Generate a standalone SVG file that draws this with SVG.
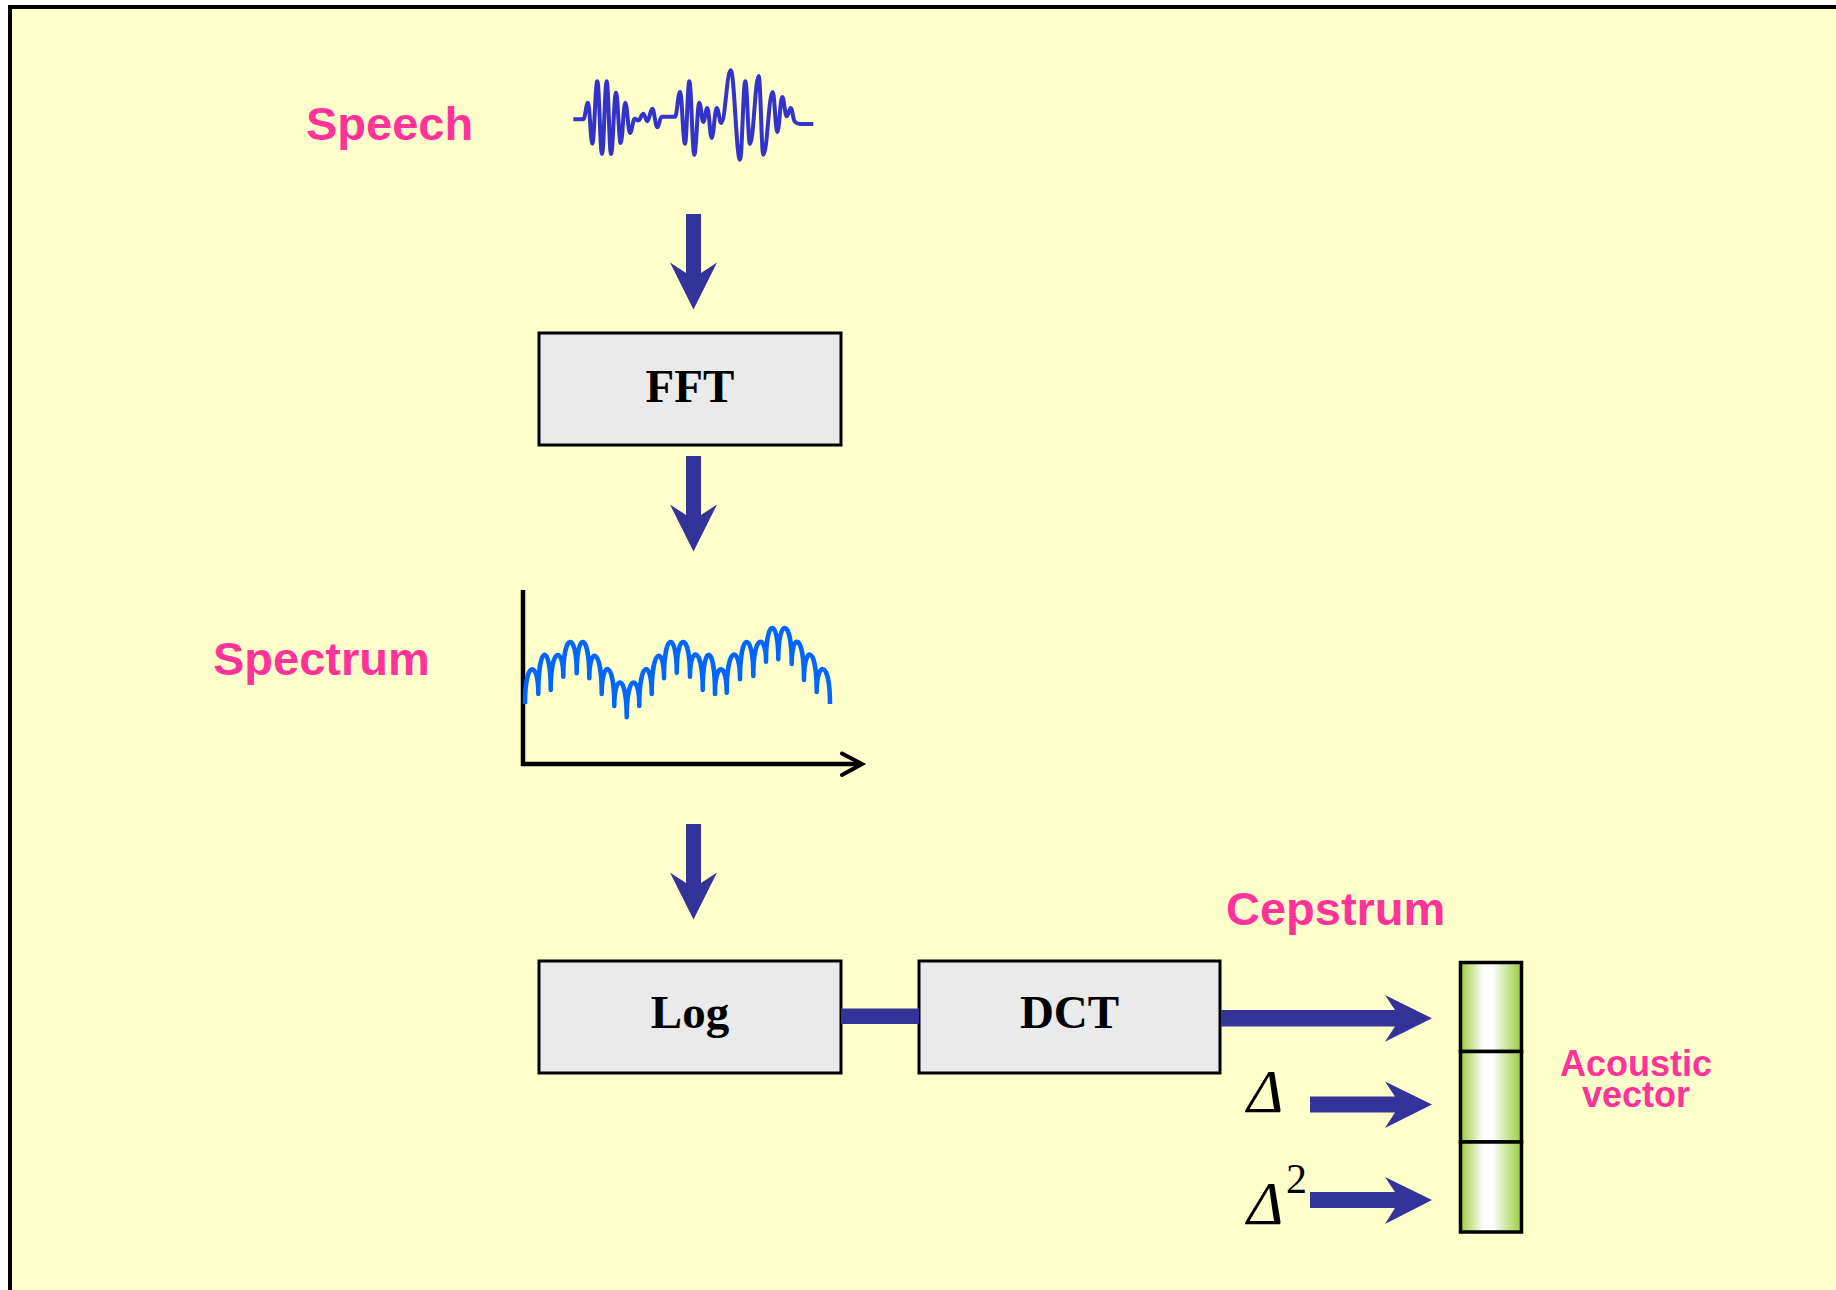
<svg xmlns="http://www.w3.org/2000/svg" width="1836" height="1290" viewBox="0 0 1836 1290">
<style>
.lbl{font-family:"Liberation Sans",Arial,sans-serif;font-weight:bold;fill:#FF3399}
.box{fill:#EAEAEA;stroke:#000;stroke-width:3}
.btxt{font-family:"Liberation Serif","Times New Roman",serif;font-weight:bold;font-size:47px;fill:#000;text-anchor:middle}
.arr{fill:#333399;stroke:none}
.cell{fill:url(#vg);stroke:#000;stroke-width:3.5}
.sym{font-family:"Liberation Serif","Times New Roman",serif;fill:#000}
</style>
<defs>
<linearGradient id="vg" x1="0" y1="0" x2="1" y2="0">
<stop offset="0" stop-color="#9BCB3A"/>
<stop offset="0.38" stop-color="#FFFFFF"/>
<stop offset="0.52" stop-color="#FFFFFF"/>
<stop offset="1" stop-color="#9BCB3A"/>
</linearGradient>
</defs>
<rect x="0" y="0" width="1836" height="1290" fill="#FFFFFF"/>
<rect id="frame" x="10" y="7" width="1900" height="1400" fill="#FFFFCC" stroke="#000" stroke-width="4"/>

<g id="speech">
<text class="lbl" x="306" y="140" font-size="47">Speech</text>
<path fill="none" stroke="#3333CC" stroke-width="4" stroke-linejoin="round" d="M573.3,119.3 L583.3,119.3 C585.2,119.3 586.1,102.7 588,102.7 C589.7,102.7 590.6,143.7 592.3,143.7 C594.3,143.7 595.3,81.3 597.3,81.3 C599.2,81.3 600.1,154 602,154 C603.9,154 604.8,81.3 606.7,81.3 C608.4,81.3 609.3,154 611,154 C613,154 614,92.7 616,92.7 C617.9,92.7 618.8,143 620.7,143 C622.5,143 623.5,102.7 625.3,102.7 C627.2,102.7 628.1,133 630,133 C631.9,133 632.8,118.7 634.7,118.7 C636.1,118.7 636.9,120.5 638.3,120.5 C640.3,120.5 641.3,113.7 643.3,113.7 C644.9,113.7 645.7,121.3 647.3,121.3 C649.3,121.3 650.3,108.7 652.3,108.7 C654.3,108.7 655.3,127.3 657.3,127.3 C659.1,127.3 659.9,116.7 661.7,116.7 L675,116.7 C677,116.7 678,92 680,92 C682,92 683,143.7 685,143.7 C686.7,143.7 687.6,81.3 689.3,81.3 C691.3,81.3 692.3,154.7 694.3,154.7 C696.3,154.7 697.3,102.7 699.3,102.7 C700.9,102.7 701.7,122 703.3,122 C704.9,122 705.7,108 707.3,108 C709.1,108 709.9,138 711.7,138 C713.7,138 714.7,108 716.7,108 C718.5,108 719.5,123 721.3,123 C725.1,123 726.9,70.3 730.7,70.3 C734.4,70.3 736.3,159.7 740,159.7 C742.1,159.7 743.2,81.3 745.3,81.3 C747.2,81.3 748.1,144 750,144 C753.5,144 755.2,76 758.7,76 C760.5,76 761.5,154.7 763.3,154.7 C767.1,154.7 768.9,92 772.7,92 C774.5,92 775.5,132 777.3,132 C779.3,132 780.3,97 782.3,97 C784.1,97 784.9,116.3 786.7,116.3 C788.3,116.3 789.1,108 790.7,108 C792.4,108 793.3,121.7 795,121.7 C797,124 798,124 800,124 L813.3,124"/>
</g>

<g id="fft">
<rect class="box" x="539" y="333" width="302" height="112"/>
<text class="btxt" x="690" y="401.5">FFT</text>
</g>

<g id="spectrum">
<text class="lbl" x="213" y="675" font-size="47">Spectrum</text>
<path fill="none" stroke="#000" stroke-width="4.5" d="M523,590 L523,764 L861,764"/>
<path fill="none" stroke="#000" stroke-width="4" stroke-linecap="round" stroke-linejoin="miter" d="M842,753.5 L862,764 L842,775"/>
<path fill="none" stroke="#0066FF" stroke-width="4.5" stroke-linejoin="round" d="M525,704 C525,659.4 538.3,659.4 538.3,694 C538.3,642.3 550.7,642.3 550.7,690 C550.7,646 563.3,646 563.3,676.7 C563.3,631 576.7,631 576.7,673.3 C576.7,630.7 589.3,630.7 589.3,678.3 C589.3,646 601.7,646 601.7,694 C601.7,659.1 614.3,659.1 614.3,706 C614.3,673 626.7,673 626.7,717.3 C626.7,673 639.3,673 639.3,706 C639.3,659.1 651.7,659.1 651.7,694 C651.7,646 664,646 664,678.3 C664,630.8 676.7,630.8 676.7,672.7 C676.7,631.1 690,631.1 690,676.7 C690,645.2 702.7,645.2 702.7,690 C702.7,642.3 715,642.3 715,694 C715,661.3 726.7,661.3 726.7,692.7 C726.7,644.3 740,644.3 740,679.3 C740,630.1 753.3,630.1 753.3,676 C753.3,633 766,633 766,661.7 C766,617.2 778.3,617.2 778.3,659.3 C778.3,616.8 791.7,616.8 791.7,664 C791.7,632 804,632 804,680 C804,644.3 816.7,644.3 816.7,692 C816.7,659.7 830,659.7 830,704"/>
</g>

<g id="log">
<rect class="box" x="539" y="961" width="302" height="112"/>
<text class="btxt" x="690" y="1028">Log</text>
</g>

<g id="dct">
<rect class="box" x="919" y="961" width="301" height="112"/>
<text class="btxt" x="1069.5" y="1028">DCT</text>
</g>

<g id="cepstrum">
<text class="lbl" x="1226" y="925" font-size="47">Cepstrum</text>
</g>

<g id="delta">
<text class="sym" x="1247" y="1111.7" font-size="62" font-style="italic">Δ</text>
</g>
<g id="delta2">
<text class="sym" x="1247" y="1224" font-size="62" font-style="italic">Δ</text>
<text class="sym" x="1286" y="1193.3" font-size="42">2</text>
</g>

<g id="acoustic-vector">
<rect class="cell" x="1460.5" y="962.5" width="61" height="89"/>
<rect class="cell" x="1460.5" y="1051.5" width="61" height="90.5"/>
<rect class="cell" x="1460.5" y="1142" width="61" height="90"/>
<text class="lbl" font-size="36" text-anchor="middle"><tspan x="1636" y="1076">Acoustic</tspan><tspan x="1636" y="1106.5">vector</tspan></text>
</g>

<g id="connectors">
<path class="arr" d="M686,214 L701,214 L701,273 L717,262.5 L693.5,309.5 L670,262.5 L686,273 Z"/>
<path class="arr" d="M686,456 L701,456 L701,515 L717,504.5 L693.5,551.5 L670,504.5 L686,515 Z"/>
<path class="arr" d="M686,824 L701,824 L701,883 L717,872.5 L693.5,919.5 L670,872.5 L686,883 Z"/>
<rect class="arr" x="841" y="1008.5" width="78" height="15.5"/>
<path class="arr" d="M1221,1010 L1395,1010 L1385,995 L1432,1018.3 L1385,1041.7 L1395,1026.5 L1221,1026.5 Z"/>
<path class="arr" d="M1310,1096.5 L1395,1096.5 L1385,1081.5 L1432,1104.5 L1385,1128 L1395,1112.5 L1310,1112.5 Z"/>
<path class="arr" d="M1310,1192 L1395,1192 L1385,1177 L1432,1200 L1385,1224 L1395,1208 L1310,1208 Z"/>
</g>
</svg>
